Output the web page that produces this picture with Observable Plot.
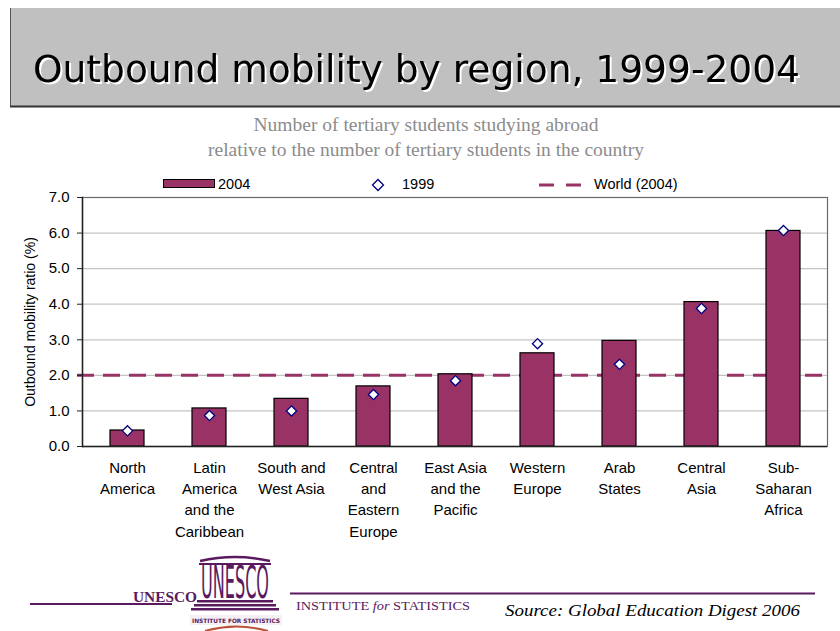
<!DOCTYPE html>
<html>
<head>
<meta charset="utf-8">
<script src="https://cdn.jsdelivr.net/npm/d3@7"></script>
<script src="https://cdn.jsdelivr.net/npm/@observablehq/plot@0.6"></script>
<style>
  html, body { margin: 0; padding: 0; background: #fff; }
  #page { position: relative; width: 840px; height: 631px; overflow: hidden; background: #fff; }
  #page > svg, #page > div { position: absolute; left: 0; }
</style>
</head>
<body>
<div id="page"></div>
<script>
// ---- data ----
const title = "Outbound mobility by region, 1999-2004";
const subtitleLines = ["Number of tertiary students studying abroad", "relative to the number of tertiary students in the country"];
const regions = ["North America", "Latin America and the Caribbean", "South and West Asia", "Central and Eastern Europe", "East Asia and the Pacific", "Western Europe", "Arab States", "Central Asia", "Sub-Saharan Africa"];
const regionLabels = ["North\nAmerica", "Latin\nAmerica\nand the\nCaribbean", "South and\nWest Asia", "Central\nand\nEastern\nEurope", "East Asia\nand the\nPacific", "Western\nEurope", "Arab\nStates", "Central\nAsia", "Sub-\nSaharan\nAfrica"];
const values2004 = [0.45, 1.07, 1.34, 1.69, 2.03, 2.62, 2.97, 4.06, 6.06];
const values1999 = [0.44, 0.87, 1.00, 1.46, 1.85, 2.89, 2.31, 3.88, 6.07];
const world2004 = 2.0;
const yTicks = [0, 1, 2, 3, 4, 5, 6, 7];
const legendLabels = ["2004", "1999", "World (2004)"];
const yLabel = "Outbound mobility ratio (%)";
const sourceText = "Source: Global Education Digest 2006";

const BAR = "#993366", NAVY = "#000080", PURPLE = "#5a1a5e";
const data = regions.map((r, i) => ({region: r, v2004: values2004[i], v1999: values1999[i]}));
const labelMap = new Map(regions.map((r, i) => [r, regionLabels[i]]));
const page = document.getElementById("page");

// ---- banner + subtitle + legend + footer (decorative SVG) ----
const deco = d3.create("svg").attr("width", 840).attr("height", 631).style("top", "0px");
deco.append("rect").attr("x", 10).attr("y", 8).attr("width", 840).attr("height", 99).attr("fill", "#c0c0c0");
deco.append("line").attr("x1", 10.5).attr("x2", 10.5).attr("y1", 8).attr("y2", 107).attr("stroke", "#555").attr("stroke-width", 1);
deco.append("line").attr("x1", 10).attr("x2", 840).attr("y1", 106.5).attr("y2", 106.5).attr("stroke", "#333").attr("stroke-width", 2);
deco.append("text").attr("x", 33).attr("y", 82).attr("font-family", "DejaVu Sans").attr("font-size", 37)
  .attr("textLength", 767).attr("lengthAdjust", "spacingAndGlyphs").attr("fill", "#000")
  .style("filter", "drop-shadow(2px 2px 0 #fff)").text(title);

subtitleLines.forEach((s, i) => deco.append("text").attr("x", 426).attr("y", 131 + i * 24.5)
  .attr("text-anchor", "middle").attr("font-family", "Liberation Serif").attr("font-size", 19.5)
  .attr("fill", "#8c8c8c").text(s));

// legend
const lg = deco.append("g").attr("font-family", "Liberation Sans").attr("font-size", 14.5).attr("fill", "#000");
lg.append("rect").attr("x", 163.5).attr("y", 179.5).attr("width", 51).attr("height", 8).attr("fill", BAR).attr("stroke", "#000");
lg.append("text").attr("x", 218).attr("y", 189).text(legendLabels[0]);
lg.append("path").attr("d", "M378,179.5L383.5,185L378,190.5L372.5,185Z").attr("fill", "#fff").attr("stroke", NAVY).attr("stroke-width", 1.3);
lg.append("text").attr("x", 402).attr("y", 189).text(legendLabels[1]);
lg.append("line").attr("x1", 539).attr("x2", 583).attr("y1", 185).attr("y2", 185).attr("stroke", BAR).attr("stroke-width", 3).attr("stroke-dasharray", "15,12");
lg.append("text").attr("x", 594).attr("y", 189).text(legendLabels[2]);

// footer
const ft = deco.append("g");
ft.append("line").attr("x1", 30).attr("x2", 172).attr("y1", 604).attr("y2", 604).attr("stroke", PURPLE).attr("stroke-width", 2.2);
ft.append("line").attr("x1", 290).attr("x2", 815).attr("y1", 593.5).attr("y2", 593.5).attr("stroke", PURPLE).attr("stroke-width", 2.2);
ft.append("text").attr("x", 133).attr("y", 602).attr("font-family", "Liberation Serif").attr("font-weight", "bold")
  .attr("font-size", 15).attr("fill", PURPLE).attr("textLength", 64).attr("lengthAdjust", "spacingAndGlyphs").text("UNESCO");
// logo (temple)
ft.append("path").attr("d", "M200,561 Q235,553 270,561").attr("fill", "none").attr("stroke", PURPLE).attr("stroke-width", 2.5);
ft.append("rect").attr("x", 199).attr("y", 563).attr("width", 72).attr("height", 2).attr("fill", PURPLE);
ft.append("text").attr("x", 0).attr("y", 0).attr("font-family", "DejaVu Sans Condensed").attr("font-size", 14)
  .attr("fill", PURPLE).attr("transform", "translate(201,598) scale(1,3.2)")
  .attr("textLength", 68).attr("lengthAdjust", "spacingAndGlyphs").text("UNESCO");
[[197, 273, 600], [194, 276, 604], [191, 279, 608]].forEach(([a, b, y]) =>
  ft.append("rect").attr("x", a).attr("y", y).attr("width", b - a).attr("height", 2.5).attr("fill", PURPLE));
ft.append("rect").attr("x", 190).attr("y", 615).attr("width", 92).attr("height", 10).attr("fill", "#f4f0f4");
ft.append("text").attr("x", 236).attr("y", 623).attr("text-anchor", "middle").attr("font-family", "DejaVu Sans").attr("font-weight", "bold")
  .attr("font-size", 6).attr("fill", PURPLE).attr("textLength", 88).attr("lengthAdjust", "spacingAndGlyphs").text("INSTITUTE FOR STATISTICS");
ft.append("path").attr("d", "M205,631 Q236,622 268,631").attr("fill", "none").attr("stroke", "#b8503a").attr("stroke-width", 2);
ft.append("text").attr("x", 296).attr("y", 610).attr("font-family", "Liberation Serif").attr("font-size", 13.5).attr("fill", PURPLE)
  .attr("textLength", 174).attr("lengthAdjust", "spacingAndGlyphs")
  .html('INSTITUTE <tspan font-style="italic">for</tspan> STATISTICS');
ft.append("text").attr("x", 505).attr("y", 616).attr("font-family", "Liberation Serif").attr("font-style", "italic")
  .attr("font-size", 17.5).attr("fill", "#000").attr("textLength", 295).attr("lengthAdjust", "spacingAndGlyphs").text(sourceText);
page.appendChild(deco.node());

// ---- chart ----
const chart = Plot.plot({
  width: 840,
  height: 360,
  marginTop: 7,
  marginRight: 13,
  marginBottom: 104,
  marginLeft: 82,
  style: {fontFamily: "Liberation Sans, Arial, sans-serif", fontSize: "15px", color: "#000", background: "transparent", overflow: "visible"},
  x: {domain: regions, paddingInner: 0.59, paddingOuter: 0.295, align: 0.5},
  y: {domain: [0, 7]},
  marks: [
    Plot.ruleY(yTicks.filter(v => v > 0 && v < 7), {stroke: "#c4c4c4", strokeWidth: 1.2}),
    Plot.ruleY([world2004], {stroke: BAR, strokeWidth: 3, strokeDasharray: "17,9", insetLeft: -5}),
    Plot.barY(data, {x: "region", y: "v2004", fill: BAR, stroke: "#000", strokeWidth: 1.2}),
    Plot.dot(data, {x: "region", y: "v1999", symbol: "diamond2", r: 4.6, fill: "#fff", stroke: NAVY, strokeWidth: 1.3}),
    Plot.frame({stroke: "#6a6a6a", strokeWidth: 1.2}),
    Plot.ruleY([0], {stroke: "#222", strokeWidth: 1.5}),
    Plot.frame({anchor: "left", stroke: "#222", strokeWidth: 1.5}),
    Plot.axisY({ticks: yTicks, tickFormat: d3.format(".1f"), tickSize: 5, tickPadding: 8, label: null, fontSize: 15, stroke: "#222"}),
    Plot.axisX({tickSize: 0, tickPadding: 11, tickFormat: d => labelMap.get(d), label: null, fontSize: 15, lineHeight: 1.42}),
    Plot.text([yLabel], {text: d => d, frameAnchor: "left", textAnchor: "middle", lineAnchor: "middle", dx: -52, rotate: -90, fontSize: 14})
  ]
});
const holder = document.createElement("div");
holder.style.top = "190px";
holder.appendChild(chart);
page.appendChild(holder);
</script>
</body>
</html>
